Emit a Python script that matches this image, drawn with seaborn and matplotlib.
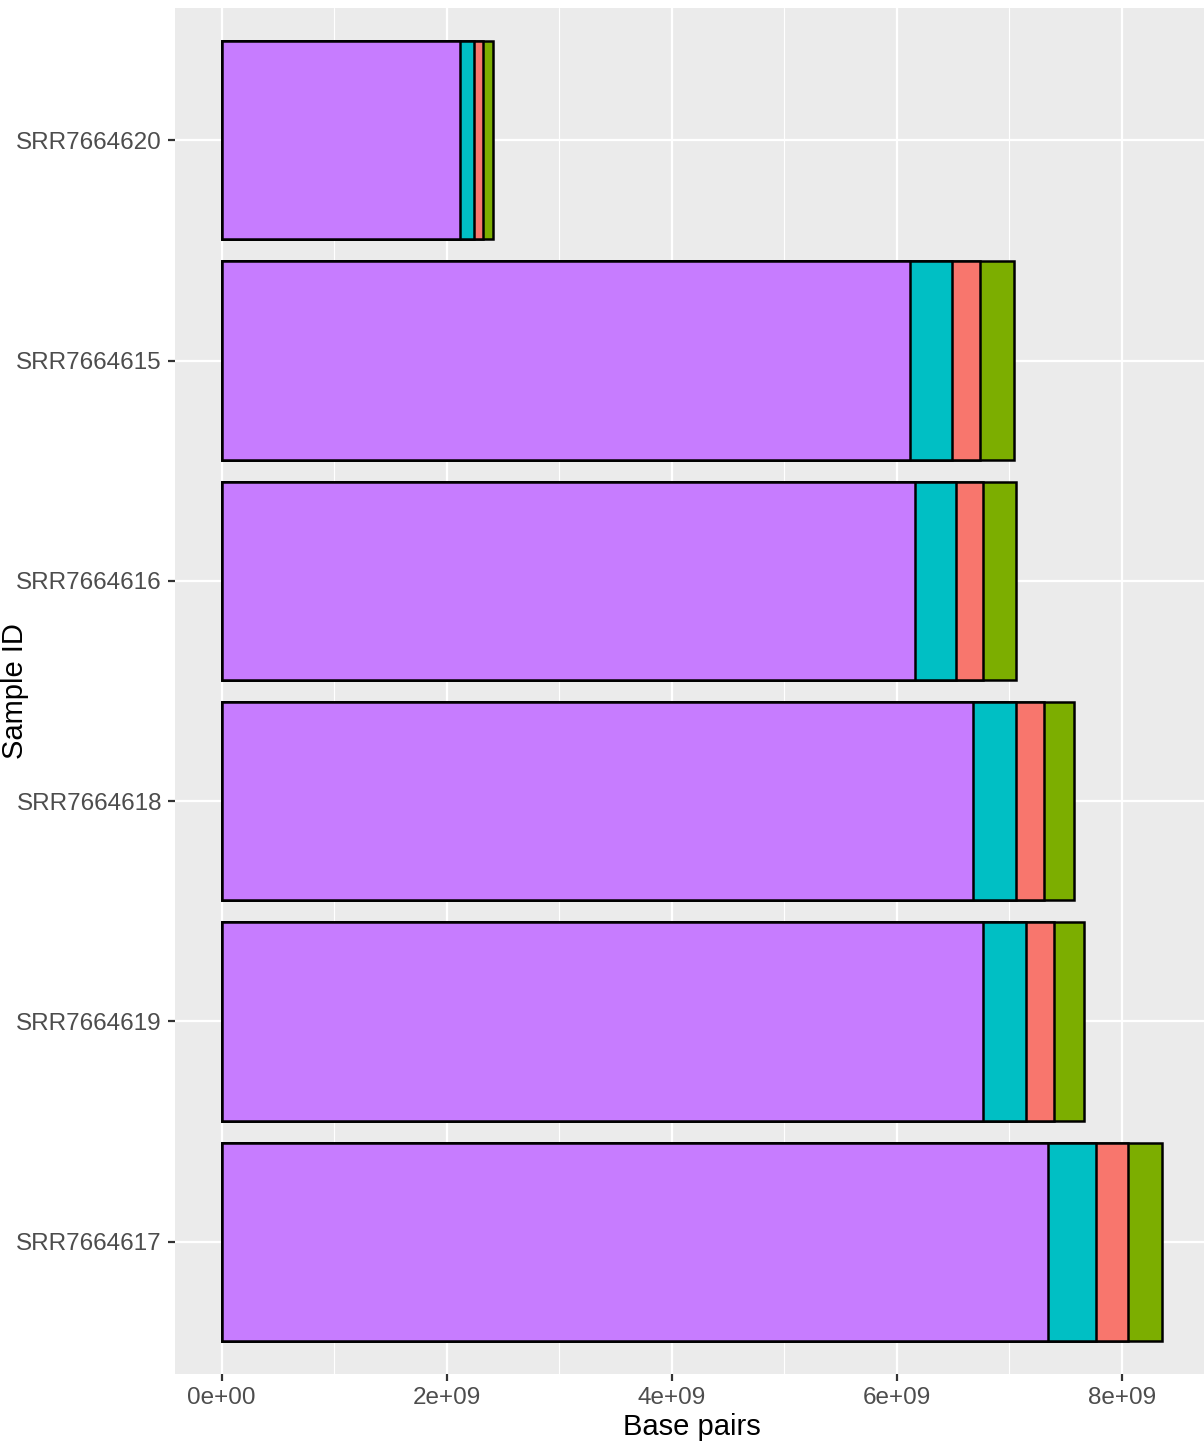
import pandas as pd
import seaborn as sns
import matplotlib.pyplot as plt
from matplotlib.ticker import MultipleLocator, FuncFormatter

samples = ["SRR7664620", "SRR7664615", "SRR7664616", "SRR7664618", "SRR7664619", "SRR7664617"]
# segment sizes (base pairs), left to right
purple_bp = [2.116e9, 6.116e9, 6.160e9, 6.673e9, 6.762e9, 7.345e9]
teal_bp = [0.124e9, 0.370e9, 0.365e9, 0.385e9, 0.382e9, 0.424e9]
salmon_bp = [0.080e9, 0.249e9, 0.240e9, 0.249e9, 0.249e9, 0.282e9]
green_bp = [0.094e9, 0.308e9, 0.293e9, 0.269e9, 0.272e9, 0.305e9]

layers = [("#C77CFF", purple_bp), ("#00BFC4", teal_bp), ("#F8766D", salmon_bp), ("#7CAE00", green_bp)]

sns.set_theme(style="darkgrid")
plt.rcParams["font.family"] = ["Liberation Sans", "DejaVu Sans"]

W, H = 1204, 1447
fig = plt.figure(figsize=(W / 100, H / 100), dpi=100)
ax = fig.add_axes([174.5 / W, 1 - 1374 / H, (1209 - 174.5) / W, (1374 - 8) / H])
ax.set_facecolor("#EBEBEB")

# cumulative totals, drawn longest first so shorter ones sit on top
running = [0.0] * len(samples)
cums = []
for color, vals in layers:
    running = [r + v for r, v in zip(running, vals)]
    cums.append((color, list(running)))
for color, cum in reversed(cums):
    d = pd.DataFrame({"sample": samples, "bp": cum})
    sns.barplot(data=d, x="bp", y="sample", orient="h", order=samples, color=color,
                saturation=1, edgecolor="black", linewidth=1.8, width=0.9, ax=ax, zorder=3)

total_max = max(cums[-1][1])
ax.set_xlim(-0.05 * total_max, total_max * 1.05)
ax.set_ylim(len(samples) - 0.4, -0.6)

ax.xaxis.set_major_locator(MultipleLocator(2e9))
ax.xaxis.set_minor_locator(MultipleLocator(1e9))
ax.xaxis.set_major_formatter(FuncFormatter(lambda v, p: f"{v:.0e}"))
ax.grid(which="major", color="white", linewidth=1.6, zorder=0)
ax.grid(which="minor", axis="x", color="white", linewidth=0.8, zorder=0)
ax.set_axisbelow(True)
for s in ax.spines.values():
    s.set_visible(False)

ax.tick_params(which="major", length=5, width=1.6, color="#333333", labelcolor="#4D4D4D",
               labelsize=17.5, pad=4, left=True, bottom=True)
ax.tick_params(which="minor", length=0)

ax.set_xlabel("Base pairs", fontsize=21, color="black", labelpad=3)
ax.set_ylabel("")
# y title squeezed against the left edge, between the tick labels
fig.text(1 / W, 1 - 691 / H, "Sample ID", rotation=90, ha="left", va="center",
         fontsize=21, color="black")

fig.savefig("out.png", dpi=100, facecolor="white")
